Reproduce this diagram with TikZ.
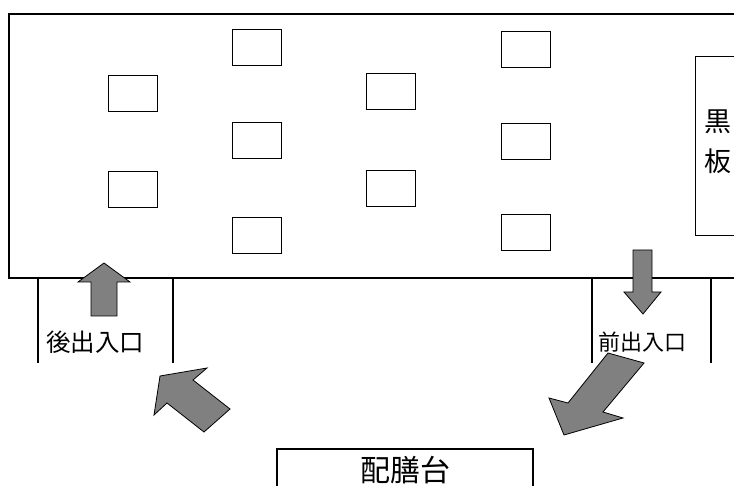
\documentclass[tikz,border=0pt]{standalone}
\usepackage{fontspec}
\setmainfont{Noto Sans CJK JP}[Scale=1]
\usepackage{tikz}
\usetikzlibrary{positioning}

\begin{document}
\begin{tikzpicture}[x=1pt, y=-1pt,
    desk/.style={draw, rectangle, line width=1pt, minimum width=49pt, minimum height=36pt, inner sep=0pt},
    wall/.style={line width=1.5pt},
    label/.style={inner sep=0pt, align=center},
    blockarrow/.style={draw, fill=gray, line width=0.8pt, line join=miter}]
    \useasboundingbox (0,0) rectangle (734,486);

    \node[desk] (deskA) at (132.5,93.5) {};
    \node[desk] (deskB) at (132.5,189.5) {};
    \node[desk] (deskC) at (256.5,47.5) {};
    \node[desk] (deskD) at (256.5,140.5) {};
    \node[desk] (deskE) at (256.5,235.5) {};
    \node[desk] (deskF) at (390.5,91.5) {};
    \node[desk] (deskG) at (390.5,188.5) {};
    \node[desk] (deskH) at (525.5,49.5) {};
    \node[desk] (deskI) at (525.5,141.5) {};
    \node[desk] (deskJ) at (525.5,232.5) {};

    \draw[wall] (734,14) -- (9,14) -- (9,278) -- (734,278);
    \draw[wall] (38,278) -- (38,363);
    \draw[wall] (173,278) -- (173,363);
    \draw[wall] (592,278) -- (592,363);
    \draw[wall] (711,278) -- (711,363);
    \draw[line width=1pt] (734,57) -- (695,57) -- (695,236) -- (734,236);
    \draw[wall] (277,486) -- (277,449) -- (533,449) -- (533,486);

    \node[label, font=\fontsize{27}{40}\selectfont] (board) at (718,141.5) {黒\\板};
    \node[label, font=\fontsize{24.5}{24.5}\selectfont] (backdoor) at (95,342) {後出入口};
    \node[label, font=\fontsize{22}{22}\selectfont] (frontdoor) at (642,342) {前出入口};
    \node[label, font=\fontsize{30}{30}\selectfont] (serving) at (405,470) {配膳台};

    \draw[blockarrow] (104,263) -- (130,282) -- (117,282) -- (117,316) -- (91,316) -- (91,282) -- (78,282) -- cycle;
    \draw[blockarrow] (643,314) -- (661,292) -- (652,292) -- (652,250) -- (633,250) -- (633,292) -- (624,292) -- cycle;
    \draw[blockarrow] (564,435) -- (623,418) -- (603,412) -- (644,363) -- (608,353) -- (568,403) -- (549,398) -- cycle;
    \draw[blockarrow] (160,376) -- (207,368) -- (193,380) -- (230,409) -- (204,432) -- (167,403) -- (154,415) -- cycle;
\end{tikzpicture}
\end{document}
